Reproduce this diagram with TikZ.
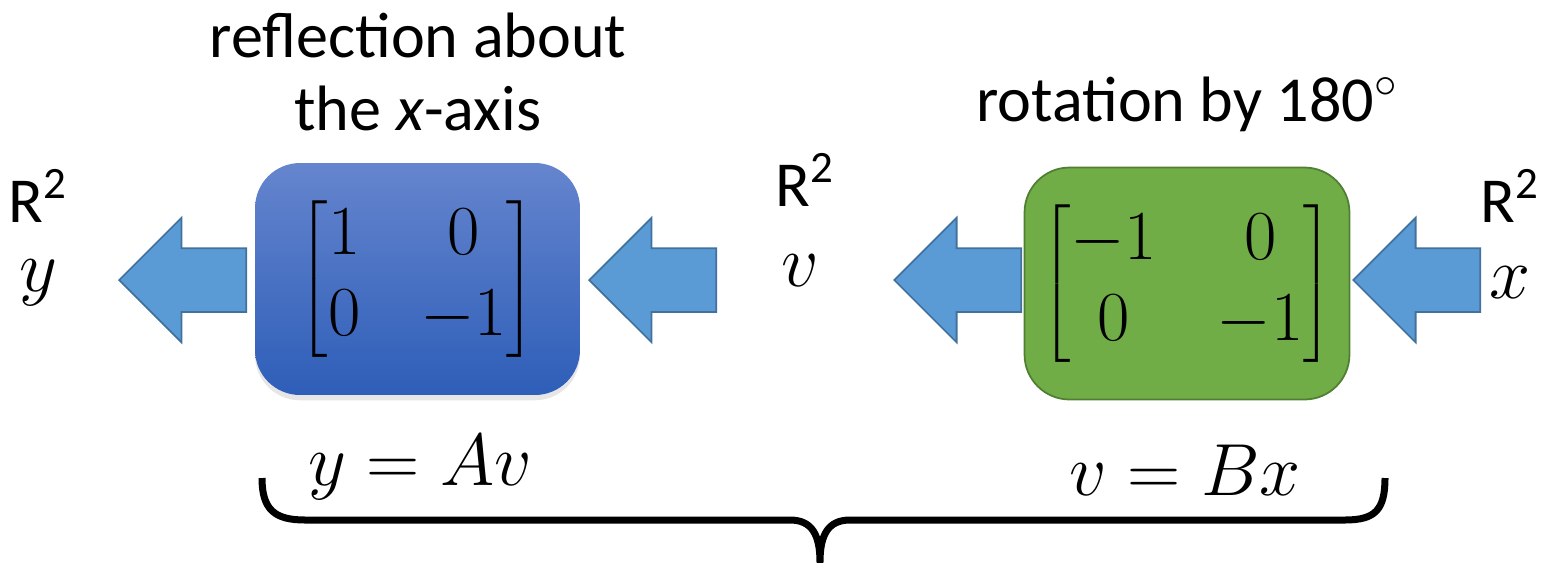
\RequirePackage{fix-cm}
\documentclass[tikz,border=0pt]{standalone}
\usepackage{amsmath}
\usepackage[no-math]{fontspec}
\setmainfont{Carlito}
\usetikzlibrary{shapes.arrows,shadows}
\definecolor{arrowfill}{HTML}{5B9BD5}
\definecolor{arrowedge}{HTML}{41719C}
\definecolor{greenfill}{HTML}{70AD47}
\definecolor{greenedge}{HTML}{507E32}
\definecolor{bluetop}{HTML}{6585CE}
\definecolor{bluebottom}{HTML}{2E5EB8}
\newcommand{\matfont}{\fontsize{40}{42}\selectfont\setlength{\arraycolsep}{17pt}%
  \renewcommand{\arraystretch}{1.1}%
  \delimiterfactor=800\relax\delimitershortfall=14pt\relax}

\begin{document}
\begin{tikzpicture}[x=0.02cm,y=-0.02cm,
    lbl/.style={font=\fontsize{36.5}{42}\selectfont, inner sep=0pt, align=center},
    var/.style={font=\fontsize{42}{48}\selectfont, inner sep=0pt},
    matbox/.style={rounded corners=0.9cm, minimum width=6.5cm, minimum height=4.64cm,
      font=\matfont},
    blockarrow/.style={single arrow, draw=arrowedge, fill=arrowfill, line width=1pt,
      minimum height=2.54cm, single arrow head extend=0.61cm, inner xsep=0pt,
      inner ysep=0.62cm, shape border rotate=180, anchor=tip}]
      \useasboundingbox (0,0) rectangle (1552,562);
      \node[lbl] (refltitle) at (418,72) {reflection about\\the \textit{x}-axis};
      \node[lbl] (rottitle) at (1187,104) {rotation by 180$^\circ$};
      \node[blockarrow] (arry) at (118,280) {};
      \node[blockarrow] (arrvin) at (588,280) {};
      \node[blockarrow] (arrvout) at (893,280) {};
      \node[blockarrow] (arrx) at (1352,280) {};
      \node[matbox, top color=bluetop, bottom color=bluebottom,
        drop shadow={shadow xshift=0pt, shadow yshift=-3pt, opacity=0.2}] (reflbox) at (417.5,279)
        {$\begin{bmatrix} 1 & 0\\ 0 & -1 \end{bmatrix}$};
      \node[matbox, fill=greenfill, draw=greenedge, line width=1pt] (rotbox) at (1187,283.5)
        {$\begin{bmatrix} -1 & 0\\ 0 & -1 \end{bmatrix}$};
      \node[lbl] (rsqy) at (38,196) {R\textsuperscript{2}};
      \node[var] (vary) at (38,283) {$y$};
      \node[lbl] (rsqv) at (805,180) {R\textsuperscript{2}};
      \node[var] (varv) at (800,271) {$v$};
      \node[lbl] (rsqx) at (1510,196) {R\textsuperscript{2}};
      \node[var] (varx) at (1510,283) {$x$};
      \node[var] (eqa) at (420,467) {$y = Av$};
      \node[var] (eqb) at (1185,470) {$v = Bx$};
      \draw[line width=0.14cm, line join=round]
        (262,478) .. controls (262,510) and (275,520) .. (305,520) -- (790,520)
        .. controls (812,520) and (820,535) .. (820,562)
        .. controls (820,535) and (828,520) .. (850,520) -- (1345,520)
        .. controls (1375,520) and (1385,510) .. (1385,478);
\end{tikzpicture}
\end{document}
